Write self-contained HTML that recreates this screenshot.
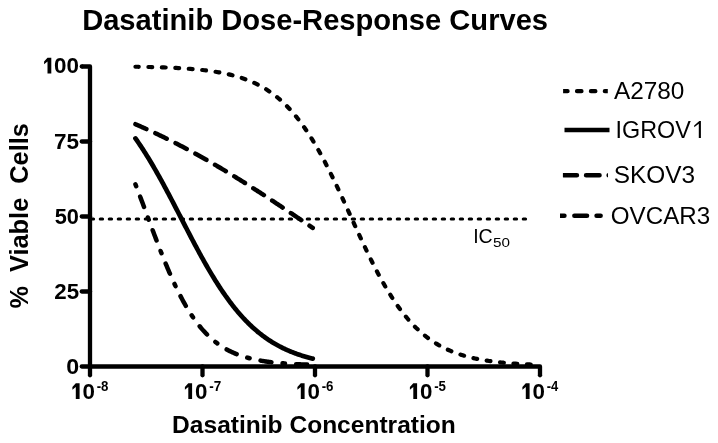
<!DOCTYPE html>
<html><head><meta charset="utf-8"><style>
html,body{margin:0;padding:0;background:#fff;}
svg{display:block;will-change:transform;}
text{font-family:"Liberation Sans",sans-serif;fill:#000;}
</style></head><body>
<svg width="718" height="443" viewBox="0 0 718 443">
<rect width="718" height="443" fill="#fff"/>
<defs><clipPath id="lc0"><rect x="563.1" y="86.2" width="44.69999999999993" height="10"/></clipPath><clipPath id="lc2"><rect x="562.9" y="170.2" width="45.10000000000002" height="10"/></clipPath><clipPath id="lc3"><rect x="560" y="210.7" width="43" height="10"/></clipPath></defs>
<path d="M135.45,66.74 L137.48,66.77 L139.52,66.81 L141.55,66.84 L143.58,66.88 L145.61,66.92 L147.65,66.97 L149.68,67.02 L151.71,67.07 L153.75,67.12 L155.78,67.18 L157.81,67.24 L159.84,67.30 L161.88,67.37 L163.91,67.44 L165.94,67.51 L167.98,67.59 L170.01,67.68 L172.04,67.77 L174.08,67.87 L176.11,67.97 L178.14,68.08 L180.17,68.19 L182.21,68.31 L184.24,68.44 L186.27,68.58 L188.31,68.72 L190.34,68.88 L192.37,69.04 L194.40,69.21 L196.44,69.40 L198.47,69.59 L200.50,69.80 L202.54,70.02 L204.57,70.25 L206.60,70.49 L208.63,70.76 L210.67,71.03 L212.70,71.32 L214.73,71.63 L216.77,71.96 L218.80,72.31 L220.83,72.68 L222.87,73.07 L224.90,73.48 L226.93,73.91 L228.96,74.38 L231.00,74.87 L233.03,75.38 L235.06,75.93 L237.10,76.51 L239.13,77.12 L241.16,77.77 L243.19,78.45 L245.23,79.17 L247.26,79.93 L249.29,80.74 L251.33,81.58 L253.36,82.48 L255.39,83.42 L257.42,84.42 L259.46,85.47 L261.49,86.57 L263.52,87.74 L265.56,88.96 L267.59,90.25 L269.62,91.61 L271.66,93.03 L273.69,94.53 L275.72,96.10 L277.75,97.74 L279.79,99.47 L281.82,101.28 L283.85,103.17 L285.89,105.15 L287.92,107.22 L289.95,109.38 L291.98,111.64 L294.02,113.99 L296.05,116.44 L298.08,118.98 L300.12,121.63 L302.15,124.38 L304.18,127.23 L306.21,130.19 L308.25,133.25 L310.28,136.41 L312.31,139.67 L314.35,143.03 L316.38,146.50 L318.41,150.06 L320.45,153.71 L322.48,157.46 L324.51,161.29 L326.54,165.21 L328.58,169.21 L330.61,173.29 L332.64,177.44 L334.68,181.65 L336.71,185.92 L338.74,190.24 L340.77,194.60 L342.81,199.00 L344.84,203.44 L346.87,207.89 L348.91,212.36 L350.94,216.84 L352.97,221.31 L355.00,225.78 L357.04,230.23 L359.07,234.65 L361.10,239.04 L363.14,243.39 L365.17,247.70 L367.20,251.95 L369.24,256.14 L371.27,260.26 L373.30,264.31 L375.33,268.29 L377.37,272.18 L379.40,275.99 L381.43,279.70 L383.47,283.33 L385.50,286.86 L387.53,290.29 L389.56,293.62 L391.60,296.85 L393.63,299.97 L395.66,303.00 L397.70,305.92 L399.73,308.74 L401.76,311.45 L403.79,314.07 L405.83,316.58 L407.86,319.00 L409.89,321.32 L411.93,323.54 L413.96,325.68 L415.99,327.72 L418.03,329.67 L420.06,331.53 L422.09,333.31 L424.12,335.01 L426.16,336.63 L428.19,338.18 L430.22,339.65 L432.26,341.05 L434.29,342.38 L436.32,343.65 L438.35,344.86 L440.39,346.00 L442.42,347.09 L444.45,348.12 L446.49,349.10 L448.52,350.03 L450.55,350.91 L452.58,351.74 L454.62,352.53 L456.65,353.28 L458.68,353.99 L460.72,354.66 L462.75,355.29 L464.78,355.89 L466.82,356.46 L468.85,357.00 L470.88,357.51 L472.91,357.99 L474.95,358.44 L476.98,358.87 L479.01,359.27 L481.05,359.65 L483.08,360.02 L485.11,360.36 L487.14,360.68 L489.18,360.98 L491.21,361.27 L493.24,361.54 L495.28,361.80 L497.31,362.04 L499.34,362.26 L501.37,362.48 L503.41,362.68 L505.44,362.87 L507.47,363.05 L509.51,363.22 L511.54,363.38 L513.57,363.53 L515.61,363.67 L517.64,363.81 L519.67,363.94 L521.70,364.06 L523.74,364.17 L525.77,364.27 L527.80,364.37 L529.84,364.47 L531.87,364.56 L533.90,364.64 L535.93,364.72 L537.97,364.79 L540.00,364.86" fill="none" stroke="#000" stroke-width="4.2" stroke-dasharray="3.8 9.678" stroke-dashoffset="0.524" stroke-linecap="round" stroke-linejoin="round"/>
<path d="M135.45,138.41 L136.34,139.67 L137.23,140.94 L138.12,142.23 L139.01,143.53 L139.90,144.85 L140.80,146.18 L141.69,147.52 L142.58,148.88 L143.47,150.26 L144.36,151.65 L145.25,153.05 L146.14,154.47 L147.03,155.90 L147.92,157.34 L148.81,158.80 L149.71,160.27 L150.60,161.75 L151.49,163.25 L152.38,164.75 L153.27,166.27 L154.16,167.81 L155.05,169.35 L155.94,170.91 L156.83,172.47 L157.72,174.05 L158.61,175.64 L159.51,177.23 L160.40,178.84 L161.29,180.46 L162.18,182.09 L163.07,183.72 L163.96,185.37 L164.85,187.02 L165.74,188.68 L166.63,190.35 L167.52,192.02 L168.42,193.70 L169.31,195.39 L170.20,197.08 L171.09,198.78 L171.98,200.48 L172.87,202.19 L173.76,203.90 L174.65,205.61 L175.54,207.33 L176.43,209.05 L177.32,210.78 L178.22,212.50 L179.11,214.23 L180.00,215.95 L180.89,217.68 L181.78,219.41 L182.67,221.14 L183.56,222.86 L184.45,224.59 L185.34,226.31 L186.23,228.03 L187.13,229.75 L188.02,231.47 L188.91,233.18 L189.80,234.88 L190.69,236.59 L191.58,238.29 L192.47,239.98 L193.36,241.67 L194.25,243.35 L195.14,245.02 L196.03,246.69 L196.93,248.35 L197.82,250.00 L198.71,251.65 L199.60,253.28 L200.49,254.91 L201.38,256.53 L202.27,258.13 L203.16,259.73 L204.05,261.32 L204.94,262.90 L205.84,264.47 L206.73,266.02 L207.62,267.57 L208.51,269.10 L209.40,270.62 L210.29,272.13 L211.18,273.63 L212.07,275.11 L212.96,276.58 L213.85,278.04 L214.74,279.48 L215.64,280.91 L216.53,282.33 L217.42,283.73 L218.31,285.12 L219.20,286.50 L220.09,287.86 L220.98,289.20 L221.87,290.54 L222.76,291.85 L223.65,293.16 L224.55,294.44 L225.44,295.72 L226.33,296.97 L227.22,298.22 L228.11,299.44 L229.00,300.66 L229.89,301.85 L230.78,303.03 L231.67,304.20 L232.56,305.35 L233.46,306.49 L234.35,307.61 L235.24,308.71 L236.13,309.80 L237.02,310.88 L237.91,311.94 L238.80,312.98 L239.69,314.01 L240.58,315.03 L241.47,316.03 L242.36,317.01 L243.26,317.98 L244.15,318.94 L245.04,319.88 L245.93,320.81 L246.82,321.72 L247.71,322.62 L248.60,323.50 L249.49,324.37 L250.38,325.23 L251.27,326.07 L252.17,326.90 L253.06,327.71 L253.95,328.51 L254.84,329.30 L255.73,330.07 L256.62,330.83 L257.51,331.58 L258.40,332.32 L259.29,333.04 L260.18,333.75 L261.07,334.45 L261.97,335.13 L262.86,335.80 L263.75,336.47 L264.64,337.12 L265.53,337.75 L266.42,338.38 L267.31,338.99 L268.20,339.60 L269.09,340.19 L269.98,340.77 L270.88,341.34 L271.77,341.90 L272.66,342.45 L273.55,342.99 L274.44,343.52 L275.33,344.04 L276.22,344.55 L277.11,345.05 L278.00,345.54 L278.89,346.02 L279.78,346.49 L280.68,346.95 L281.57,347.40 L282.46,347.85 L283.35,348.28 L284.24,348.71 L285.13,349.13 L286.02,349.54 L286.91,349.94 L287.80,350.33 L288.69,350.72 L289.59,351.10 L290.48,351.47 L291.37,351.83 L292.26,352.19 L293.15,352.54 L294.04,352.88 L294.93,353.21 L295.82,353.54 L296.71,353.86 L297.60,354.18 L298.49,354.48 L299.39,354.79 L300.28,355.08 L301.17,355.37 L302.06,355.65 L302.95,355.93 L303.84,356.20 L304.73,356.47 L305.62,356.73 L306.51,356.98 L307.40,357.23 L308.30,357.48 L309.19,357.72 L310.08,357.95 L310.97,358.18 L311.86,358.41 L312.75,358.63" fill="none" stroke="#000" stroke-width="4.7" stroke-dasharray="none" stroke-dashoffset="0" stroke-linecap="round" stroke-linejoin="round"/>
<path d="M135.45,124.21 L136.34,124.60 L137.23,124.99 L138.12,125.37 L139.01,125.76 L139.90,126.16 L140.80,126.55 L141.69,126.94 L142.58,127.34 L143.47,127.74 L144.36,128.14 L145.25,128.54 L146.14,128.94 L147.03,129.34 L147.92,129.75 L148.81,130.16 L149.71,130.57 L150.60,130.98 L151.49,131.39 L152.38,131.80 L153.27,132.22 L154.16,132.64 L155.05,133.05 L155.94,133.47 L156.83,133.90 L157.72,134.32 L158.61,134.75 L159.51,135.17 L160.40,135.60 L161.29,136.03 L162.18,136.46 L163.07,136.89 L163.96,137.33 L164.85,137.76 L165.74,138.20 L166.63,138.64 L167.52,139.08 L168.42,139.52 L169.31,139.97 L170.20,140.41 L171.09,140.86 L171.98,141.31 L172.87,141.76 L173.76,142.21 L174.65,142.67 L175.54,143.12 L176.43,143.58 L177.32,144.04 L178.22,144.50 L179.11,144.96 L180.00,145.42 L180.89,145.88 L181.78,146.35 L182.67,146.82 L183.56,147.29 L184.45,147.76 L185.34,148.23 L186.23,148.70 L187.13,149.18 L188.02,149.65 L188.91,150.13 L189.80,150.61 L190.69,151.09 L191.58,151.57 L192.47,152.06 L193.36,152.54 L194.25,153.03 L195.14,153.52 L196.03,154.01 L196.93,154.50 L197.82,154.99 L198.71,155.49 L199.60,155.98 L200.49,156.48 L201.38,156.98 L202.27,157.48 L203.16,157.98 L204.05,158.48 L204.94,158.99 L205.84,159.49 L206.73,160.00 L207.62,160.51 L208.51,161.02 L209.40,161.53 L210.29,162.05 L211.18,162.56 L212.07,163.07 L212.96,163.59 L213.85,164.11 L214.74,164.63 L215.64,165.15 L216.53,165.67 L217.42,166.20 L218.31,166.72 L219.20,167.25 L220.09,167.78 L220.98,168.30 L221.87,168.83 L222.76,169.37 L223.65,169.90 L224.55,170.43 L225.44,170.97 L226.33,171.50 L227.22,172.04 L228.11,172.58 L229.00,173.12 L229.89,173.66 L230.78,174.21 L231.67,174.75 L232.56,175.30 L233.46,175.84 L234.35,176.39 L235.24,176.94 L236.13,177.49 L237.02,178.04 L237.91,178.59 L238.80,179.14 L239.69,179.70 L240.58,180.25 L241.47,180.81 L242.36,181.37 L243.26,181.93 L244.15,182.49 L245.04,183.05 L245.93,183.61 L246.82,184.17 L247.71,184.74 L248.60,185.30 L249.49,185.87 L250.38,186.43 L251.27,187.00 L252.17,187.57 L253.06,188.14 L253.95,188.71 L254.84,189.28 L255.73,189.86 L256.62,190.43 L257.51,191.00 L258.40,191.58 L259.29,192.16 L260.18,192.73 L261.07,193.31 L261.97,193.89 L262.86,194.47 L263.75,195.05 L264.64,195.63 L265.53,196.21 L266.42,196.80 L267.31,197.38 L268.20,197.96 L269.09,198.55 L269.98,199.14 L270.88,199.72 L271.77,200.31 L272.66,200.90 L273.55,201.49 L274.44,202.08 L275.33,202.67 L276.22,203.26 L277.11,203.85 L278.00,204.44 L278.89,205.03 L279.78,205.63 L280.68,206.22 L281.57,206.82 L282.46,207.41 L283.35,208.01 L284.24,208.60 L285.13,209.20 L286.02,209.80 L286.91,210.40 L287.80,210.99 L288.69,211.59 L289.59,212.19 L290.48,212.79 L291.37,213.39 L292.26,213.99 L293.15,214.59 L294.04,215.19 L294.93,215.80 L295.82,216.40 L296.71,217.00 L297.60,217.60 L298.49,218.21 L299.39,218.81 L300.28,219.41 L301.17,220.02 L302.06,220.62 L302.95,221.22 L303.84,221.83 L304.73,222.43 L305.62,223.04 L306.51,223.64 L307.40,224.25 L308.30,224.86 L309.19,225.46 L310.08,226.07 L310.97,226.67 L311.86,227.28 L312.75,227.89" fill="none" stroke="#000" stroke-width="4.5" stroke-dasharray="12.6 9.89" stroke-dashoffset="0.63" stroke-linecap="round" stroke-linejoin="round"/>
<path d="M135.45,184.35 L136.34,186.65 L137.23,188.96 L138.12,191.28 L139.01,193.62 L139.90,195.97 L140.80,198.33 L141.69,200.70 L142.58,203.08 L143.47,205.47 L144.36,207.86 L145.25,210.25 L146.14,212.65 L147.03,215.05 L147.92,217.46 L148.81,219.86 L149.71,222.26 L150.60,224.65 L151.49,227.05 L152.38,229.43 L153.27,231.81 L154.16,234.19 L155.05,236.55 L155.94,238.90 L156.83,241.25 L157.72,243.58 L158.61,245.89 L159.51,248.19 L160.40,250.48 L161.29,252.75 L162.18,255.00 L163.07,257.23 L163.96,259.45 L164.85,261.64 L165.74,263.81 L166.63,265.96 L167.52,268.09 L168.42,270.19 L169.31,272.27 L170.20,274.32 L171.09,276.35 L171.98,278.35 L172.87,280.33 L173.76,282.28 L174.65,284.20 L175.54,286.09 L176.43,287.96 L177.32,289.79 L178.22,291.60 L179.11,293.38 L180.00,295.13 L180.89,296.85 L181.78,298.54 L182.67,300.20 L183.56,301.83 L184.45,303.43 L185.34,305.00 L186.23,306.54 L187.13,308.05 L188.02,309.54 L188.91,310.99 L189.80,312.41 L190.69,313.80 L191.58,315.17 L192.47,316.50 L193.36,317.81 L194.25,319.09 L195.14,320.34 L196.03,321.56 L196.93,322.76 L197.82,323.93 L198.71,325.07 L199.60,326.18 L200.49,327.27 L201.38,328.33 L202.27,329.37 L203.16,330.38 L204.05,331.37 L204.94,332.34 L205.84,333.28 L206.73,334.19 L207.62,335.08 L208.51,335.96 L209.40,336.80 L210.29,337.63 L211.18,338.44 L212.07,339.22 L212.96,339.98 L213.85,340.73 L214.74,341.45 L215.64,342.15 L216.53,342.84 L217.42,343.51 L218.31,344.16 L219.20,344.79 L220.09,345.40 L220.98,346.00 L221.87,346.58 L222.76,347.14 L223.65,347.69 L224.55,348.23 L225.44,348.74 L226.33,349.25 L227.22,349.74 L228.11,350.21 L229.00,350.67 L229.89,351.12 L230.78,351.56 L231.67,351.98 L232.56,352.39 L233.46,352.79 L234.35,353.18 L235.24,353.56 L236.13,353.92 L237.02,354.28 L237.91,354.62 L238.80,354.95 L239.69,355.28 L240.58,355.59 L241.47,355.90 L242.36,356.19 L243.26,356.48 L244.15,356.76 L245.04,357.03 L245.93,357.29 L246.82,357.55 L247.71,357.79 L248.60,358.03 L249.49,358.27 L250.38,358.49 L251.27,358.71 L252.17,358.92 L253.06,359.13 L253.95,359.33 L254.84,359.52 L255.73,359.71 L256.62,359.89 L257.51,360.06 L258.40,360.23 L259.29,360.40 L260.18,360.56 L261.07,360.71 L261.97,360.86 L262.86,361.01 L263.75,361.15 L264.64,361.29 L265.53,361.42 L266.42,361.55 L267.31,361.67 L268.20,361.80 L269.09,361.91 L269.98,362.03 L270.88,362.14 L271.77,362.24 L272.66,362.35 L273.55,362.45 L274.44,362.54 L275.33,362.64 L276.22,362.73 L277.11,362.82 L278.00,362.90 L278.89,362.98 L279.78,363.06 L280.68,363.14 L281.57,363.22 L282.46,363.29 L283.35,363.36 L284.24,363.43 L285.13,363.49 L286.02,363.56 L286.91,363.62 L287.80,363.68 L288.69,363.74 L289.59,363.80 L290.48,363.85 L291.37,363.90 L292.26,363.95 L293.15,364.00 L294.04,364.05 L294.93,364.10 L295.82,364.14 L296.71,364.19 L297.60,364.23 L298.49,364.27 L299.39,364.31 L300.28,364.35 L301.17,364.39 L302.06,364.42 L302.95,364.46 L303.84,364.49 L304.73,364.52 L305.62,364.56 L306.51,364.59 L307.40,364.62 L308.30,364.65 L309.19,364.67 L310.08,364.70 L310.97,364.73 L311.86,364.75 L312.75,364.78" fill="none" stroke="#000" stroke-width="4.5" stroke-dasharray="2.4 11.2 11 11.2" stroke-dashoffset="0.4" stroke-linecap="round" stroke-linejoin="round"/>
<line x1="91.2" y1="219" x2="525.7" y2="219" stroke="#000" stroke-width="3" stroke-dasharray="2.4 6.6" stroke-linecap="round"/>
<path d="M81.75,66.5 L90,66.5 L90,366.5 L540.0,366.5 L540.0,375.25" fill="none" stroke="#000" stroke-width="4.3" stroke-linejoin="round" stroke-linecap="butt"/>
<circle cx="81.75" cy="66.5" r="2.15" fill="#000"/><circle cx="540.0" cy="375.25" r="2.15" fill="#000"/>
<line x1="81.75" y1="366.5" x2="90" y2="366.5" stroke="#000" stroke-width="4.3" stroke-linecap="round"/>
<line x1="81.75" y1="291.5" x2="90" y2="291.5" stroke="#000" stroke-width="4.3" stroke-linecap="round"/>
<line x1="81.75" y1="216.5" x2="90" y2="216.5" stroke="#000" stroke-width="4.3" stroke-linecap="round"/>
<line x1="81.75" y1="141.5" x2="90" y2="141.5" stroke="#000" stroke-width="4.3" stroke-linecap="round"/>
<line x1="90.0" y1="366.5" x2="90.0" y2="375.25" stroke="#000" stroke-width="4.3" stroke-linecap="round"/>
<line x1="202.5" y1="366.5" x2="202.5" y2="375.25" stroke="#000" stroke-width="4.3" stroke-linecap="round"/>
<line x1="315.0" y1="366.5" x2="315.0" y2="375.25" stroke="#000" stroke-width="4.3" stroke-linecap="round"/>
<line x1="427.5" y1="366.5" x2="427.5" y2="375.25" stroke="#000" stroke-width="4.3" stroke-linecap="round"/>
<text x="82.15" y="29.70" font-size="30.00" font-weight="700" text-anchor="start" textLength="465.9" lengthAdjust="spacingAndGlyphs" id="t0">Dasatinib Dose-Response Curves</text>
<text x="172.10" y="433.35" font-size="24.36" font-weight="700" text-anchor="start" textLength="283.70000000000016" lengthAdjust="spacingAndGlyphs" id="t1">Dasatinib Concentration</text>
<text x="54.05" y="73.30" font-size="22.73" font-weight="700" text-anchor="start" textLength="24.93000000000002" lengthAdjust="spacingAndGlyphs" id="t2">00</text>
<text x="54.00" y="148.65" font-size="22.86" font-weight="700" text-anchor="start" textLength="25.030000000000033" lengthAdjust="spacingAndGlyphs" id="t3">75</text>
<text x="54.75" y="223.65" font-size="22.52" font-weight="700" text-anchor="start" textLength="24.23" lengthAdjust="spacingAndGlyphs" id="t4">50</text>
<text x="54.25" y="298.65" font-size="22.52" font-weight="700" text-anchor="start" textLength="24.780000000000037" lengthAdjust="spacingAndGlyphs" id="t5">25</text>
<text x="66.20" y="373.75" font-size="22.45" font-weight="700" text-anchor="start" textLength="12.940000000000062" lengthAdjust="spacingAndGlyphs" id="t6">0</text>
<text x="613.95" y="98.70" font-size="24.21" font-weight="400" text-anchor="start" textLength="70.44999999999985" lengthAdjust="spacingAndGlyphs" id="t7">A2780</text>
<text x="615.60" y="138.15" font-size="23.79" font-weight="400" text-anchor="start" textLength="75.25" lengthAdjust="spacingAndGlyphs" id="t8">IGROV</text>
<text x="613.75" y="182.75" font-size="23.51" font-weight="400" text-anchor="start" textLength="81.35" lengthAdjust="spacingAndGlyphs" id="t9">SKOV3</text>
<text x="610.80" y="223.70" font-size="24.50" font-weight="400" text-anchor="start" textLength="99.40000000000016" lengthAdjust="spacingAndGlyphs" id="t10">OVCAR3</text>
<text x="473.20" y="242.70" font-size="20.92" font-weight="400" text-anchor="start" textLength="19.54999999999984" lengthAdjust="spacingAndGlyphs" id="t11">IC</text>
<text x="493.05" y="247.35" font-size="12.92" font-weight="400" text-anchor="start" textLength="16.95000000000008" lengthAdjust="spacingAndGlyphs" id="t12">50</text>
<text x="82.40" y="398.80" font-size="22.52" font-weight="700" text-anchor="start" textLength="12.439999999999962" lengthAdjust="spacingAndGlyphs" id="t13">0</text>
<text x="96.70" y="391.40" font-size="14.15" font-weight="700" text-anchor="start" textLength="11.799999999999944" lengthAdjust="spacingAndGlyphs" id="t14">-8</text>
<text x="194.90" y="398.80" font-size="22.52" font-weight="700" text-anchor="start" textLength="12.440000000000163" lengthAdjust="spacingAndGlyphs" id="t15">0</text>
<text x="209.20" y="391.40" font-size="14.16" font-weight="700" text-anchor="start" textLength="12.050000000000042" lengthAdjust="spacingAndGlyphs" id="t16">-7</text>
<text x="307.40" y="398.80" font-size="22.52" font-weight="700" text-anchor="start" textLength="12.440000000000163" lengthAdjust="spacingAndGlyphs" id="t17">0</text>
<text x="321.70" y="391.40" font-size="14.15" font-weight="700" text-anchor="start" textLength="11.800000000000239" lengthAdjust="spacingAndGlyphs" id="t18">-6</text>
<text x="419.90" y="398.80" font-size="22.52" font-weight="700" text-anchor="start" textLength="12.440000000000163" lengthAdjust="spacingAndGlyphs" id="t19">0</text>
<text x="434.20" y="391.40" font-size="14.16" font-weight="700" text-anchor="start" textLength="11.800000000000239" lengthAdjust="spacingAndGlyphs" id="t20">-5</text>
<text x="532.40" y="398.80" font-size="22.52" font-weight="700" text-anchor="start" textLength="12.439999999999369" lengthAdjust="spacingAndGlyphs" id="t21">0</text>
<text x="546.70" y="391.40" font-size="14.16" font-weight="700" text-anchor="start" textLength="11.549999999999837" lengthAdjust="spacingAndGlyphs" id="t22">-4</text>
<path d="M51.30,73.60 L51.30,57.80 L47.50,57.80 L44.10,61.60 L44.10,64.20 L47.50,61.50 L47.50,73.60 Z" fill="#000"/>
<path d="M79.60,399.10 L79.60,383.30 L75.80,383.30 L72.40,387.10 L72.40,389.70 L75.80,387.00 L75.80,399.10 Z" fill="#000"/>
<path d="M192.10,399.10 L192.10,383.30 L188.30,383.30 L184.90,387.10 L184.90,389.70 L188.30,387.00 L188.30,399.10 Z" fill="#000"/>
<path d="M304.60,399.10 L304.60,383.30 L300.80,383.30 L297.40,387.10 L297.40,389.70 L300.80,387.00 L300.80,399.10 Z" fill="#000"/>
<path d="M417.10,399.10 L417.10,383.30 L413.30,383.30 L409.90,387.10 L409.90,389.70 L413.30,387.00 L413.30,399.10 Z" fill="#000"/>
<path d="M529.60,399.10 L529.60,383.30 L525.80,383.30 L522.40,387.10 L522.40,389.70 L525.80,387.00 L525.80,399.10 Z" fill="#000"/>
<path d="M700.90,138.00 L700.90,121.00 L699.30,121.00 L694.20,125.50 L694.20,127.20 L698.80,123.70 L698.80,138.00 Z" fill="#000"/>
<text transform="translate(27.5,308.6) rotate(-90)" x="0" y="0" font-size="25" font-weight="700" textLength="185.5" lengthAdjust="spacingAndGlyphs">%  Viable  Cells</text>
<line x1="563.1" y1="91.2" x2="612" y2="91.2" stroke="#000" stroke-width="4.2" stroke-dasharray="4.5 9.4" stroke-linecap="round" clip-path="url(#lc0)"/>
<line x1="564.5" y1="130" x2="609.5" y2="130" stroke="#000" stroke-width="4.5" stroke-dasharray="none" stroke-linecap="butt"/>
<line x1="563.5" y1="175.2" x2="612" y2="175.2" stroke="#000" stroke-width="4.6" stroke-dasharray="13.4 9.2" stroke-linecap="round" clip-path="url(#lc2)"/>
<line x1="560.4" y1="215.7" x2="606" y2="215.7" stroke="#000" stroke-width="4.6" stroke-dasharray="4 10 12.6 9.6" stroke-linecap="round" clip-path="url(#lc3)"/>
</svg>
</body></html>
